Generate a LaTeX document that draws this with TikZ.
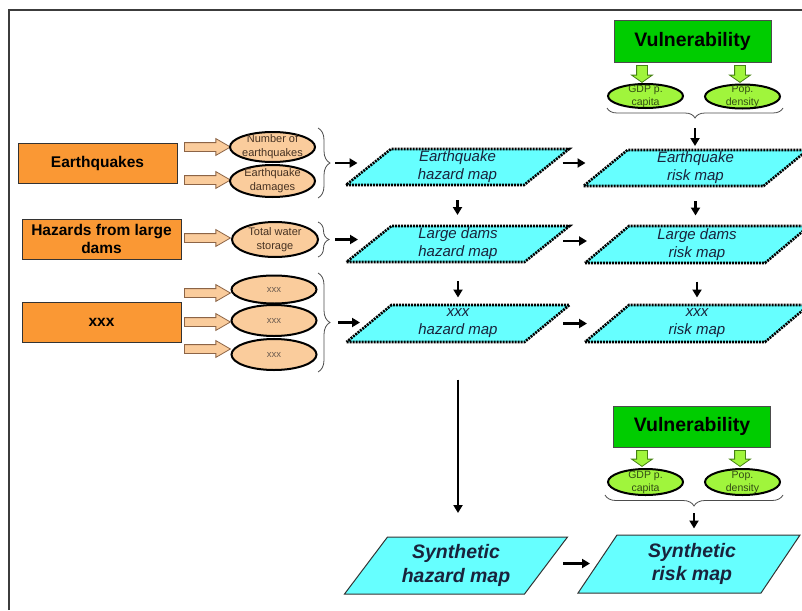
\documentclass[tikz,border=0pt]{standalone}
\usepackage{fontspec}
\setmainfont{Liberation Sans}
\usetikzlibrary{shapes.geometric,shapes.arrows,arrows.meta,decorations.pathreplacing,calc}

\definecolor{boxorange}{RGB}{250,152,52}
\definecolor{peach}{RGB}{250,204,156}
\definecolor{peachedge}{RGB}{140,100,70}
\definecolor{peachtext}{RGB}{70,50,35}
\definecolor{vgreen}{RGB}{0,204,0}
\definecolor{lime}{RGB}{160,245,60}
\definecolor{limeedge}{RGB}{70,130,20}
\definecolor{limetext}{RGB}{50,75,20}
\definecolor{mapcyan}{RGB}{102,255,255}
\definecolor{maptext}{RGB}{25,35,60}
\definecolor{framegray}{RGB}{60,60,60}

\begin{document}
\begin{tikzpicture}[x=1pt,y=-1pt,
  frameline/.style={draw=framegray, line width=1.8pt},
  srcbox/.style={draw=black!80, line width=1pt, fill=boxorange, minimum width=159pt,
    minimum height=40pt, inner sep=0pt, align=center,
    font=\bfseries\fontsize{15.5}{18}\selectfont},
  factor/.style={ellipse, draw=black, line width=2pt, fill=peach, inner sep=0pt},
  ftxt/.style={align=center, inner sep=0pt, text=peachtext, font=\fontsize{11}{14}\selectfont},
  xtxt/.style={inner sep=0pt, text=peachtext!80, font=\fontsize{9.5}{11}\selectfont},
  vuln/.style={draw=black!70, line width=1pt, fill=vgreen, minimum width=157pt,
    minimum height=41pt, inner sep=0pt, font=\bfseries\fontsize{19.5}{23}\selectfont},
  vfac/.style={ellipse, draw=black, line width=2pt, fill=lime, inner sep=0pt,
    minimum width=75pt},
  vtxt/.style={align=center, inner sep=0pt, text=limetext, font=\fontsize{10.5}{13}\selectfont},
  % parallelogram outline: bottom width, height, slant, path style
  pics/pgram/.style n args={4}{code={%
    \path[#4] ({-(#1+#3)/2},{#2/2}) -- ({(#1-#3)/2},{#2/2}) -- ({(#1+#3)/2},{-#2/2})
      -- ({-(#1-#3)/2},{-#2/2}) -- cycle;}},
  dotmap/.style={fill=mapcyan, draw=black, line width=2.6pt, dash pattern=on 2pt off 1pt},
  solidmap/.style={fill=mapcyan, draw=black!80, line width=1pt},
  maptxt/.style={inner sep=0pt, outer sep=0pt, align=center, text=maptext,
    minimum width=178pt, minimum height=36pt, font=\itshape\fontsize{15}{18}\selectfont},
  synttxt/.style={inner sep=0pt, outer sep=0pt, align=center, text=maptext,
    minimum width=182pt, minimum height=57pt,
    font=\bfseries\itshape\fontsize{19.5}{23.5}\selectfont},
  oarrow/.style={single arrow, draw=peachedge, fill=peach, line width=0.8pt,
    minimum height=46pt, inner sep=4pt, text height=0pt, text depth=0pt,
    text width=0pt, single arrow head extend=4pt, single arrow tip angle=60,
    anchor=tail},
  garrow/.style={single arrow, draw=limeedge, fill=lime, line width=0.8pt,
    minimum height=17pt, inner sep=5pt, text height=0pt, text depth=0pt,
    text width=0pt, single arrow head extend=5pt, single arrow tip angle=110,
    shape border rotate=270, anchor=tail},
  brc/.style={decorate, draw=black!70, line width=0.8pt},
  arr/.style={-{Triangle[length=8pt,width=9pt]}, line width=2.3pt},
]
\useasboundingbox (0,0) rectangle (802,610);
\clip (0,0) rectangle (802,610);

% page frame
\draw[frameline] (9,610) -- (9,10) -- (802,10);

% hazard sources
\node[srcbox] (eq) at (97.5,163.5) {Earthquakes};
\node[srcbox] (dam) at (101.5,239) {Hazards from large\\dams};
\node[srcbox] (oth) at (101.5,322) {xxx};

% block arrows from sources to indicators
\node[oarrow] (oa1) at (184,147) {};
\node[oarrow] (oa2) at (184,180) {};
\node[oarrow] (oa3) at (184,238) {};
\node[oarrow] (oa4) at (184,293) {};
\node[oarrow] (oa5) at (184,322) {};
\node[oarrow] (oa6) at (184,349) {};

% hazard indicators
\node[factor, minimum width=85pt, minimum height=30pt,
  label={[ftxt]center:Number of\\earthquakes}] (f1) at (272.5,147) {};
\node[factor, minimum width=85pt, minimum height=32pt,
  label={[ftxt]center:Earthquake\\damages}] (f2) at (272.5,181) {};
\node[factor, minimum width=86pt, minimum height=35pt,
  label={[ftxt]center:Total water\\storage}] (f3) at (275,239.5) {};
\node[factor, minimum width=85pt, minimum height=28pt,
  label={[xtxt]center:xxx}] (f4) at (274,289.5) {};
\node[factor, minimum width=85pt, minimum height=31pt,
  label={[xtxt]center:xxx}] (f5) at (274,320.5) {};
\node[factor, minimum width=85pt, minimum height=31pt,
  label={[xtxt]center:xxx}] (f6) at (274,354.5) {};

% braces grouping the indicators
\draw[brc, decoration={brace, amplitude=12pt}] (318,128) -- (318,198);
\draw[brc, decoration={brace, amplitude=11pt}] (318,222) -- (318,257);
\draw[brc, decoration={brace, amplitude=12pt}] (318,273) -- (318,372);
\coordinate (b1) at (330,163);
\coordinate (b2) at (329,239.5);
\coordinate (b3) at (330,322.5);

% hazard and risk maps
\coordinate (c-hm1) at (457.5,167);
\coordinate (c-rm1) at (695.5,168);
\coordinate (c-hm2) at (458,244);
\coordinate (c-rm2) at (697,244.5);
\coordinate (c-hm3) at (458,323.5);
\coordinate (c-rm3) at (697,323.5);
\pic at (c-hm1) {pgram={178}{36}{45}{dotmap}};
\pic at (c-rm1) {pgram={180}{36}{44}{dotmap}};
\pic at (c-hm2) {pgram={178}{36}{45}{dotmap}};
\pic at (c-rm2) {pgram={180}{37}{44}{dotmap}};
\pic at (c-hm3) {pgram={178}{37}{45}{dotmap}};
\pic at (c-rm3) {pgram={180}{37}{44}{dotmap}};
\node[maptxt] (hm1) at (c-hm1) {Earthquake\\hazard map};
\node[maptxt] (rm1) at (c-rm1) {Earthquake\\risk map};
\node[maptxt] (hm2) at (c-hm2) {Large dams\\hazard map};
\node[maptxt] (rm2) at (c-rm2) {Large dams\\risk map};
\node[maptxt] (hm3) at (c-hm3) {xxx\\hazard map};
\node[maptxt] (rm3) at (c-rm3) {xxx\\risk map};

\coordinate (c-shm) at (456,565.5);
\coordinate (c-srm) at (689,564);
\pic at (c-shm) {pgram={180}{57}{43}{solidmap}};
\pic at (c-srm) {pgram={183}{58}{39}{solidmap}};
\node[synttxt] (shm) at (c-shm) {Synthetic\\hazard map};
\node[synttxt] (srm) at ([xshift=3pt]c-srm) {Synthetic\\risk map};

% vulnerability blocks
\node[vuln] (v1) at (692.5,41.5) {Vulnerability};
\node[garrow] (ga1) at (642,65) {};
\node[garrow] (ga2) at (740,65) {};
\node[vfac, minimum height=24pt, label={[vtxt]center:GDP p.\\capita}] (g1) at (645.5,96) {};
\node[vfac, minimum height=24pt, label={[vtxt]center:Pop.\\density}] (p1) at (742.5,96.5) {};
\draw[brc, decoration={brace, amplitude=10pt}] (783,108) -- (607,108);
\coordinate (vb1) at (695,118);

\node[vuln] (v2) at (692,426.5) {Vulnerability};
\node[garrow, minimum height=16pt] (ga3) at (642,450) {};
\node[garrow, minimum height=16pt] (ga4) at (740,450) {};
\node[vfac, minimum height=26pt, label={[vtxt]center:GDP p.\\capita}] (g2) at (645.5,482) {};
\node[vfac, minimum height=26pt, label={[vtxt]center:Pop.\\density}] (p2) at (742.5,482) {};
\draw[brc, decoration={brace, amplitude=11pt}] (783,495) -- (605,495);
\coordinate (vb2) at (694,506);

% flow arrows
\draw[arr, shorten <=5pt, shorten >=11pt] (b1) -- (b1 -| hm1.west);
\draw[arr, shorten <=6pt, shorten >=11pt] (b2) -- (b2 -| hm2.west);
\draw[arr, shorten <=8pt, shorten >=9pt] (b3) -- (b3 -| hm3.west);

\draw[arr, shorten <=16pt, shorten >=21pt] ([yshift=4pt]hm1.east) -- ([yshift=4pt]hm1.east -| rm1.west);
\draw[arr, shorten <=16pt, shorten >=21pt] ([yshift=3pt]hm2.east) -- ([yshift=3pt]hm2.east -| rm2.west);
\draw[arr, shorten <=16pt, shorten >=21pt] (hm3.east) -- (hm3.east -| rm3.west);

\draw[arr, shorten <=15pt, shorten >=11pt] (hm1.south) -- (hm1.south |- hm2.north);
\draw[arr, shorten <=19pt, shorten >=8pt] (hm2.south) -- (hm2.south |- hm3.north);
\draw[arr, shorten <=15pt, shorten >=11pt] (rm1.south) -- (rm1.south |- rm2.north);
\draw[arr, shorten <=19pt, shorten >=8pt] (rm2.south) -- (rm2.south |- rm3.north);

\draw[arr, shorten <=10pt, shorten >=4pt] (vb1) -- (vb1 |- rm1.north);
\draw[arr, shorten <=38pt, shorten >=24pt] (hm3.south) -- (hm3.south |- shm.north);
\draw[arr, shorten <=7pt, shorten >=7pt] (vb2) -- (vb2 |- srm.north);
\draw[arr, shorten <=16pt, shorten >=11pt] ([yshift=2pt]shm.east) -- ([yshift=2pt]shm.east -| srm.west);
\end{tikzpicture}
\end{document}
